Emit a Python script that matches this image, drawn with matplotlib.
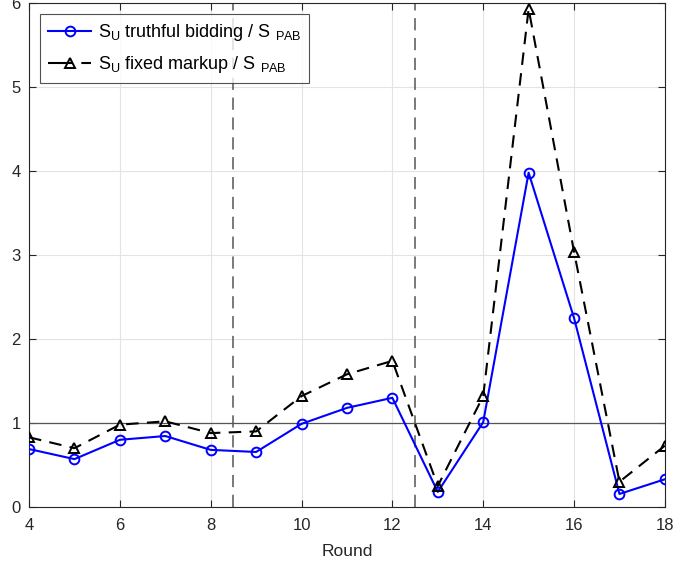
import matplotlib
matplotlib.use("Agg")
import matplotlib.pyplot as plt

rounds = [4, 5, 6, 7, 8, 9, 10, 11, 12, 13, 14, 15, 16, 17, 18]
truthful = [0.69, 0.57, 0.80, 0.845, 0.68, 0.655, 0.99, 1.18, 1.30, 0.18, 1.01, 3.98, 2.25, 0.155, 0.33]
markup = [0.83, 0.70, 0.98, 1.02, 0.88, 0.90, 1.32, 1.58, 1.74, 0.25, 1.32, 5.93, 3.04, 0.30, 0.73]
xticks = [4, 6, 8, 10, 12, 14, 16, 18]
yticks = [0, 1, 2, 3, 4, 5, 6]
vlines = [8.5, 12.5]

plt.rcParams['font.family'] = ['Liberation Sans', 'DejaVu Sans']
plt.rcParams['mathtext.fontset'] = 'custom'
plt.rcParams['mathtext.rm'] = 'Liberation Sans'

fig = plt.figure(figsize=(6.75, 5.63), dpi=100)
ax = fig.add_axes([0.043, 0.0995, 0.942, 0.895])

ax.grid(True, color='#e3e3e3', linewidth=0.8)
ax.set_axisbelow(True)
ax.axhline(1, color='#555555', linewidth=0.9, zorder=1)
for v in vlines:
    ax.axvline(v, color='#555555', linewidth=1.1, linestyle=(0, (8, 5)), zorder=1)

ax.plot(rounds, truthful, color='#0000ff', marker='o', markersize=7, markerfacecolor='none',
        markeredgewidth=1.4, linewidth=1.5, label=r'S$_{\mathregular{U}}$ truthful bidding / S $_{\mathregular{PAB}}$', zorder=3)
ax.plot(rounds, markup, color='black', marker='^', markersize=7, markerfacecolor='none',
        markeredgewidth=1.4, linewidth=1.5, linestyle=(0, (6, 4)),
        label=r'S$_{\mathregular{U}}$ fixed markup / S $_{\mathregular{PAB}}$', zorder=3)

ax.set_xlim(4, 18)
ax.set_ylim(0, 6)
ax.set_xticks(xticks)
ax.set_yticks(yticks)
ax.tick_params(direction='in', top=True, right=True, labelsize=12, length=5, colors='#262626')
ax.tick_params(axis='x', pad=8)
ax.tick_params(axis='y', pad=6)
for s in ax.spines.values():
    s.set_color('#262626')
    s.set_linewidth(0.8)
ax.set_xlabel('Round', fontsize=12.5, color='#262626', labelpad=8)

leg = ax.legend(loc='upper left', fontsize=13, frameon=True, fancybox=False, edgecolor='#262626',
                borderaxespad=0.6, handlelength=2.4, labelspacing=0.6, borderpad=0.45,
                handletextpad=0.35)
leg.get_frame().set_linewidth(0.8)
leg.get_lines()[1].set_linestyle((0, (12, 4)))

fig.savefig('out.png', dpi=100)
